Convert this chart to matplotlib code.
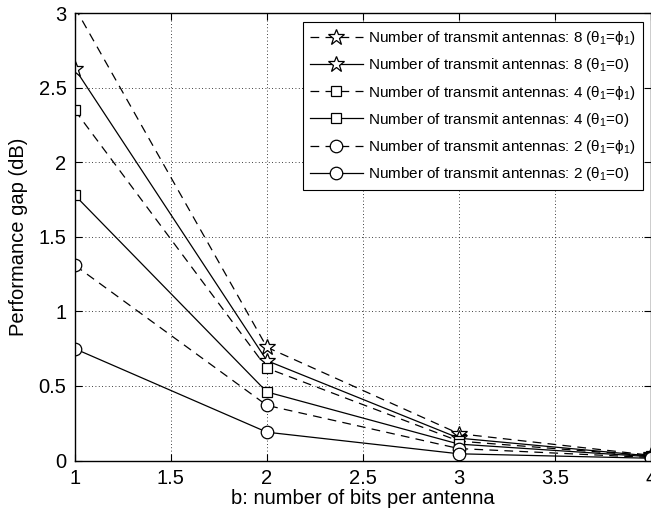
import matplotlib as mpl
mpl.use('Agg')
from matplotlib import pyplot as plt
import numpy as np

plt.rcParams['font.family'] = ['Liberation Sans', 'DejaVu Sans']
plt.rcParams['mathtext.fontset'] = 'custom'
plt.rcParams['mathtext.rm'] = 'Liberation Sans'
plt.rcParams['mathtext.it'] = 'Liberation Sans'

# data
bits = [1, 2, 3, 4]
gap_8_equal = [3.04, 0.76, 0.18, 0.035]
gap_8_zero = [2.63, 0.67, 0.15, 0.03]
gap_4_equal = [2.35, 0.62, 0.13, 0.03]
gap_4_zero = [1.78, 0.46, 0.11, 0.025]
gap_2_equal = [1.31, 0.37, 0.08, 0.02]
gap_2_zero = [0.75, 0.19, 0.045, 0.015]

labels = [
    r'Number of transmit antennas: 8 ($\theta_1$=$\phi_1$)',
    r'Number of transmit antennas: 8 ($\theta_1$=0)',
    r'Number of transmit antennas: 4 ($\theta_1$=$\phi_1$)',
    r'Number of transmit antennas: 4 ($\theta_1$=0)',
    r'Number of transmit antennas: 2 ($\theta_1$=$\phi_1$)',
    r'Number of transmit antennas: 2 ($\theta_1$=0)',
]

series = [gap_8_equal, gap_8_zero, gap_4_equal, gap_4_zero, gap_2_equal, gap_2_zero]
markers = ['*', '*', 's', 's', 'o', 'o']
msizes = [12, 12, 7.5, 7.5, 9, 9]
dashed = (0, (7, 5))
styles = [dashed, '-', dashed, '-', dashed, '-']

fig = plt.figure(figsize=(6.51, 5.18), dpi=100)
ax = fig.add_axes([0.115, 0.111, 0.885, 0.863])

for i in range(len(series)):
    every = None
    if series[i][0] > 3:
        every = [1, 2, 3]  # marker outside the axes is not drawn
    ax.plot(bits, series[i], color='k', linestyle=styles[i], linewidth=0.9,
            marker=markers[i], markersize=msizes[i], markerfacecolor='white',
            markeredgecolor='k', markeredgewidth=0.9, markevery=every,
            label=labels[i])

ax.set_xlim(1, 4)
ax.set_ylim(0, 3)
ax.set_xticks([1, 1.5, 2, 2.5, 3, 3.5, 4])
ax.set_xticklabels(['1', '1.5', '2', '2.5', '3', '3.5', '4'])
ax.set_yticks([0, 0.5, 1, 1.5, 2, 2.5, 3])
ax.set_yticklabels(['0', '0.5', '1', '1.5', '2', '2.5', '3'])

ax.grid(True, color='k', linestyle=(0, (1, 3)), linewidth=0.6)
ax.tick_params(direction='in', top=True, right=True, labelsize=14.5, length=5, pad=6)
for s in ax.spines.values():
    s.set_linewidth(1.0)

ax.set_xlabel('b: number of bits per antenna', fontsize=14.5, labelpad=1)
ax.set_ylabel('Performance gap (dB)', fontsize=14.5, labelpad=8)

leg = ax.legend(loc='upper right', bbox_to_anchor=(0.986, 0.98), borderaxespad=0,
                fontsize=11, fancybox=False, edgecolor='k', framealpha=1,
                handlelength=3.5, labelspacing=0.6, borderpad=0.45,
                handletextpad=0.35)
leg.get_frame().set_linewidth(0.8)

plt.savefig('out.png', dpi=100)
plt.close()
